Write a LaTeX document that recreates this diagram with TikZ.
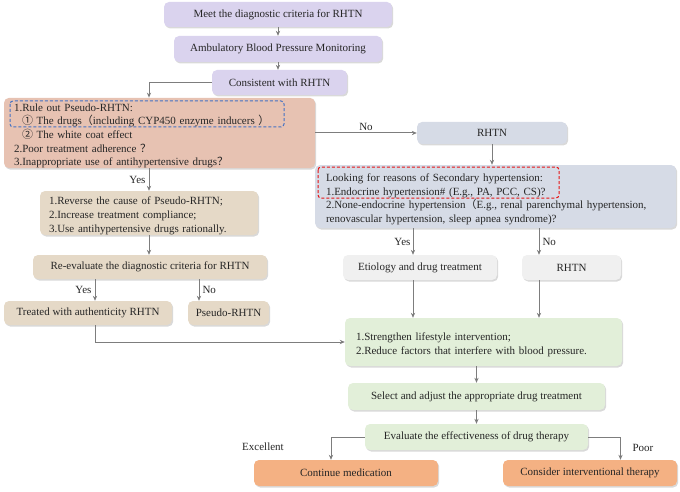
\documentclass[tikz,border=0pt]{standalone}
\usepackage{fontspec}
\setmainfont{Liberation Serif}
\newfontfamily\cjk{Noto Sans CJK SC}
\usetikzlibrary{arrows.meta,shadows}
\definecolor{purp}{RGB}{218,211,238}
\definecolor{pinkbox}{RGB}{231,194,178}
\definecolor{tanbox}{RGB}{229,217,199}
\definecolor{bluegray}{RGB}{214,219,230}
\definecolor{lgray}{RGB}{240,240,240}
\definecolor{greenbox}{RGB}{226,239,217}
\definecolor{orangebox}{RGB}{244,177,131}
\definecolor{arrgray}{RGB}{125,125,125}
\definecolor{dblue}{RGB}{68,114,196}
\definecolor{dred}{RGB}{230,20,20}
\newcommand{\topstrut}{\rule{0pt}{13.5pt}}
\begin{document}
\begin{tikzpicture}[x=1pt,y=-1pt,
  box/.style={rounded corners=5pt, draw=none, inner sep=0pt, align=center,
    text=black!85, font=\fontsize{11}{13.6}\selectfont,
    drop shadow={opacity=0.3, shadow xshift=1.2pt, shadow yshift=-1.5pt}},
  arr/.style={draw=arrgray, line width=1pt, -{Stealth[length=5pt,width=4.2pt]}},
  lab/.style={font=\fontsize{11}{13}\selectfont, inner sep=1pt, text=black!85},
  dashbox/.style={line width=1pt, dash pattern=on 3pt off 2pt, rounded corners=3pt}]
\useasboundingbox (0,0) rectangle (680,492);
% top
\node[box, fill=purp, minimum width=228pt, minimum height=25pt] (meet) at (278,14.5) {Meet the diagnostic criteria for RHTN};
\node[box, fill=purp, minimum width=208pt, minimum height=26pt] (abpm) at (278,49) {Ambulatory Blood Pressure Monitoring};
\node[box, fill=purp, minimum width=135pt, minimum height=25pt] (cons) at (279.5,82.5) {Consistent with RHTN};
% pseudo
\node[box, fill=pinkbox, minimum width=311pt, minimum height=70pt, inner xsep=10pt, text width=291pt, align=left] (pseudo) at (159.5,133)
 {\topstrut 1.Rule out Pseudo-RHTN:\\
  \hspace*{8pt}{\cjk ①} The drugs{\cjk （}including CYP450 enzyme inducers {\cjk ）}\\
  \hspace*{8pt}{\cjk ②} The white coat effect\\
  2.Poor treatment adherence {\cjk ？}\\
  3.Inappropriate use of antihypertensive drugs{\cjk ？}};
\draw[dashbox, draw=dblue] (10,101) rectangle (284,127);
% right
\node[box, fill=bluegray, minimum width=150pt, minimum height=22pt] (rhtn) at (492,133) {RHTN};
\node[box, fill=bluegray, minimum width=361pt, minimum height=63pt, inner xsep=11pt, text width=339pt, align=left] (sec) at (495.5,196.5)
 {\topstrut Looking for reasons of Secondary hypertension:\\
  1.Endocrine hypertension\# (E.g., PA, PCC, CS)?\\
  2.None-endocrine hypertension{\cjk （}E.g., renal parenchymal hypertension,\\
  renovascular hypertension, sleep apnea syndrome)?};
\draw[dashbox, draw=dred] (318,167) rectangle (559,198);
\node[box, fill=lgray, minimum width=154pt, minimum height=25pt] (etio) at (420,267.5) {Etiology and drug treatment};
\node[box, fill=lgray, minimum width=99pt, minimum height=25pt] (rhtn2) at (571.5,267.5) {RHTN};
\node[box, fill=greenbox, minimum width=277pt, minimum height=48pt, inner xsep=11pt, text width=255pt, align=left] (green) at (483.5,342)
 {\topstrut 1.Strengthen lifestyle intervention;\\
  2.Reduce factors that interfere with blood pressure.};
\node[box, fill=greenbox, minimum width=257pt, minimum height=27pt] (sel) at (476.5,396.5) {Select and adjust the appropriate drug treatment};
\node[box, fill=greenbox, minimum width=223pt, minimum height=26pt] (eval) at (476.5,437) {Evaluate the effectiveness of drug therapy};
\node[box, fill=orangebox, minimum width=184pt, minimum height=26pt] (cont) at (346,473) {Continue medication};
\node[box, fill=orangebox, minimum width=174pt, minimum height=26pt] (interv) at (590,473) {Consider interventional therapy};
% left
\node[box, fill=tanbox, minimum width=218pt, minimum height=44pt, inner xsep=9pt, text width=200pt, align=left] (rev) at (149,213)
 {\topstrut 1.Reverse the cause of Pseudo-RHTN;\\
  2.Increase treatment compliance;\\
  3.Use antihypertensive drugs rationally.};
\node[box, fill=tanbox, minimum width=234pt, minimum height=24pt] (reeval) at (150,267) {Re-evaluate the diagnostic criteria for RHTN};
\node[box, fill=tanbox, minimum width=168pt, minimum height=24pt] (tr) at (88,313) {Treated with authenticity RHTN};
\node[box, fill=tanbox, minimum width=81pt, minimum height=24pt] (pr) at (228.5,313) {Pseudo-RHTN};
% coordinates
\coordinate (xp) at (149,0);
\coordinate (xa) at (413,0);
\coordinate (xb) at (539,0);
\coordinate (xy) at (95,0);
\coordinate (xn) at (199,0);
\coordinate (xe) at (331,0);
\coordinate (xq) at (620.5,0);
% connectors
\draw[arr] (meet.south -| abpm.north) -- (abpm.north);
\draw[arr] (abpm.south) -- (abpm.south |- cons.north);
\draw[arr] (cons.west) -| (pseudo.north -| xp);
\draw[arr] (pseudo.east) -- (rhtn.west) node[lab, midway, above=1pt] {No};
\draw[arr] (rhtn.south) -- (rhtn.south |- sec.north);
\draw[arr] (sec.south -| xa) -- (etio.north -| xa) node[lab, midway, left=1pt] {Yes};
\draw[arr] (sec.south -| xb) -- (rhtn2.north -| xb) node[lab, midway, right=2pt] {No};
\draw[arr] (etio.south -| xa) -- (green.north -| xa);
\draw[arr] (rhtn2.south -| xb) -- (green.north -| xb);
\draw[arr] (green.south -| sel.north) -- (sel.north);
\draw[arr] (sel.south) -- (eval.north);
\draw[arr] (eval.west) -| (cont.north -| xe);
\draw[arr] (eval.east) -| (interv.north -| xq);
\node[lab] (lexc) at (263,447) {Excellent};
\node[lab] (lpoor) at (643,448) {Poor};
\draw[arr] (pseudo.south -| xp) -- (rev.north -| xp) node[lab, midway, left=2pt] {Yes};
\draw[arr] (rev.south -| xp) -- (reeval.north -| xp);
\draw[arr] (reeval.south -| xy) -- (tr.north -| xy) node[lab, midway, left=2pt] {Yes};
\draw[arr] (reeval.south -| xn) -- (pr.north -| xn) node[lab, midway, right=2pt] {No};
\draw[arr] (tr.south -| xy) |- (green.west);
\end{tikzpicture}
\end{document}
